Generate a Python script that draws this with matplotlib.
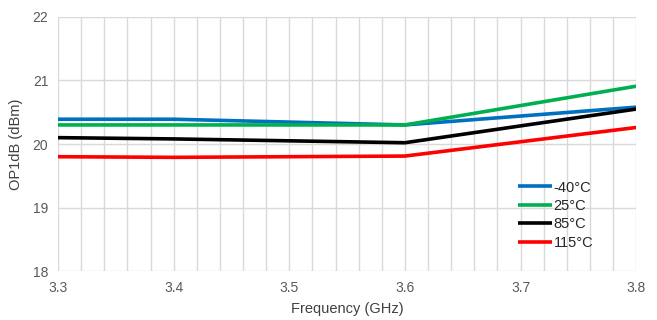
import matplotlib
matplotlib.use("Agg")
import matplotlib.pyplot as plt
import numpy as np

plt.rcParams["font.family"] = ["Liberation Sans", "DejaVu Sans"]

# data
freq = [3.3, 3.4, 3.6, 3.8]
op_m40 = [20.39, 20.39, 20.30, 20.58]
op_25 = [20.30, 20.30, 20.30, 20.91]
op_85 = [20.10, 20.08, 20.02, 20.55]
op_115 = [19.80, 19.79, 19.81, 20.26]
labels = ["-40°C", "25°C", "85°C", "115°C"]
colors = ["#0070C0", "#00B050", "#000000", "#FF0000"]

fig = plt.figure(figsize=(6.57, 3.2), dpi=100)
ax = fig.add_axes([0.0883, 0.153, 0.880, 0.794])

for vals, lab, col in zip([op_m40, op_25, op_85, op_115], labels, colors):
    ax.plot(freq, vals, color=col, lw=2.6, label=lab, solid_capstyle="butt")

ax.set_xlim(3.3, 3.8)
ax.set_ylim(18, 22)
ax.set_xticks(np.arange(3.3, 3.81, 0.1))
ax.set_xticklabels(["3.3", "3.4", "3.5", "3.6", "3.7", "3.8"])
ax.set_xticks(np.arange(3.3, 3.81, 0.02), minor=True)
ax.set_yticks([18, 19, 20, 21, 22])

ax.grid(True, which="both", axis="x", color="#d9d9d9", lw=1)
ax.grid(True, which="major", axis="y", color="#d9d9d9", lw=1)
ax.set_axisbelow(True)
for s in ax.spines.values():
    s.set_visible(False)
ax.tick_params(which="both", length=0, labelsize=10, colors="#595959", pad=7)

ax.set_xlabel("Frequency (GHz)", fontsize=10.5, color="#404040", labelpad=5)
ax.set_ylabel("OP1dB (dBm)", fontsize=10.5, color="#404040", labelpad=7)

leg = ax.legend(loc="upper left", bbox_to_anchor=(0.783, 0.385), frameon=False,
                fontsize=10.5, handlelength=2.3, handletextpad=0.15,
                labelspacing=0.3, borderpad=0)
for t in leg.get_texts():
    t.set_color("#262626")

fig.savefig("out.png", dpi=100)
